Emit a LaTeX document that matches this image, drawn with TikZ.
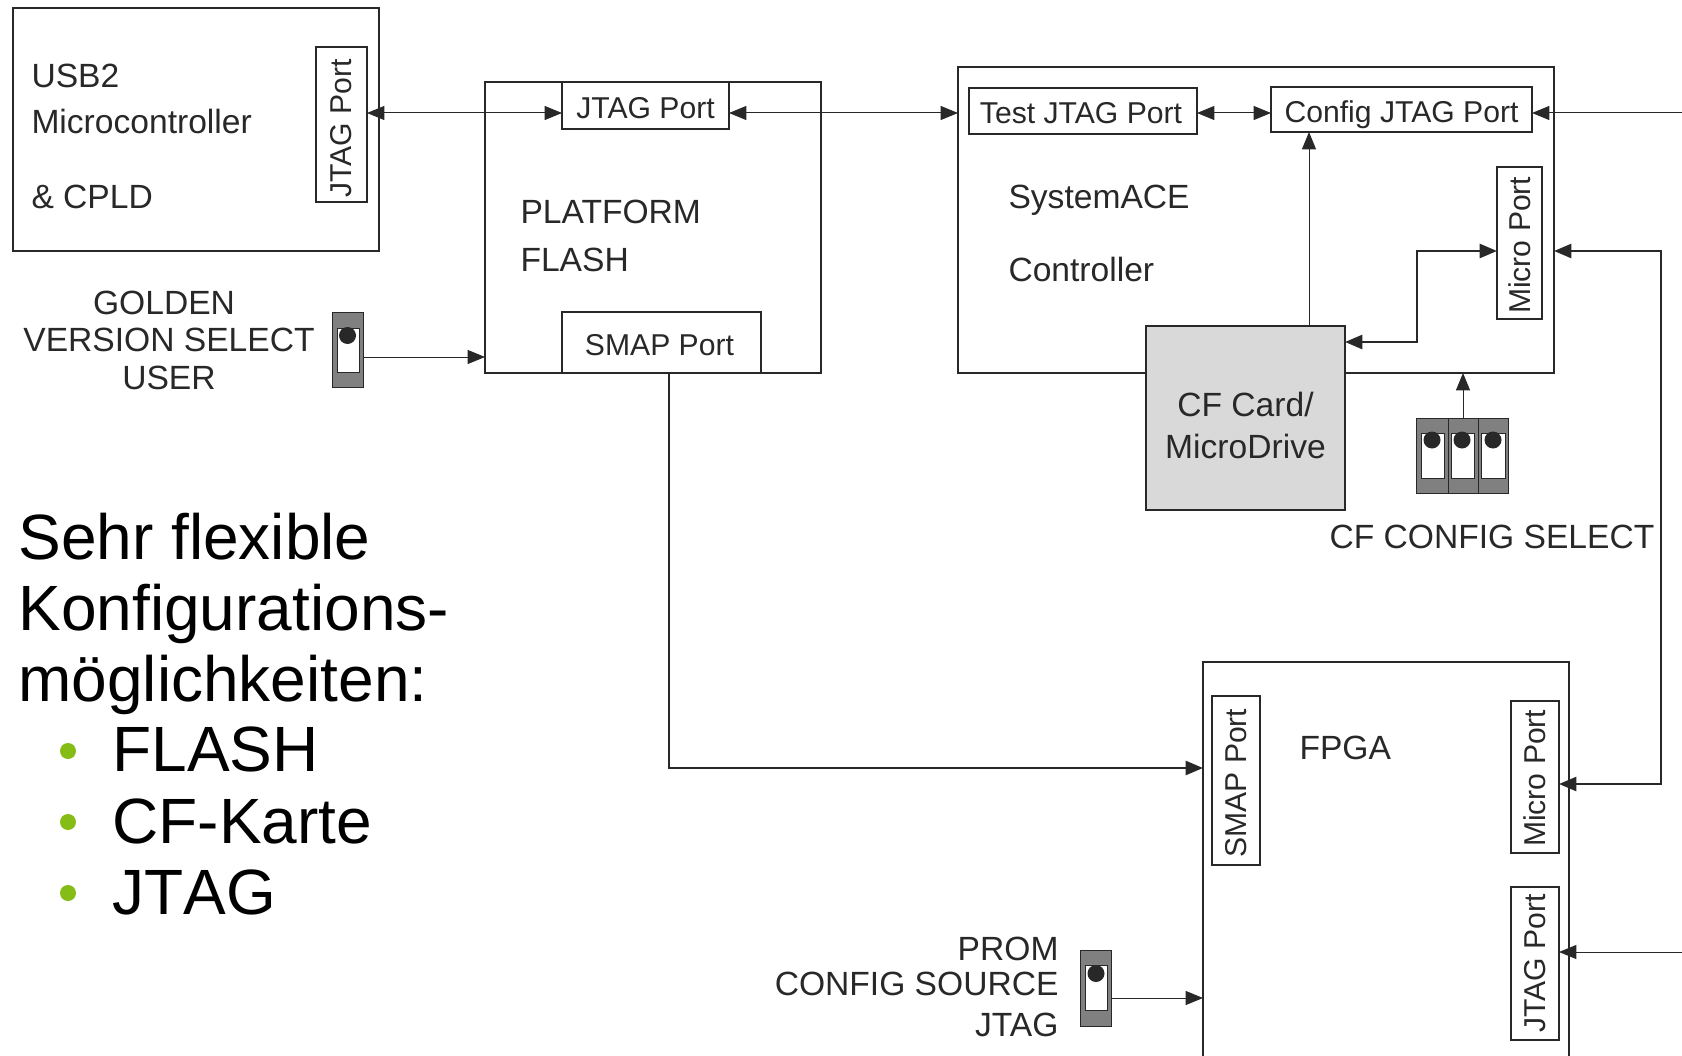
\documentclass[tikz,border=0pt]{standalone}
\usepackage{fontspec}
\setmainfont{Liberation Sans}
\usetikzlibrary{arrows.meta}
\definecolor{inkdark}{RGB}{40,40,40}
\definecolor{cardgrey}{RGB}{217,217,217}
\definecolor{switchgrey}{RGB}{128,128,128}
\definecolor{bulletgreen}{RGB}{133,188,22}
\newcommand{\vport}[2]{\rotatebox{90}{#1\kern#2pt}}
\tikzset{every picture/.style={line width=0.75pt}}
\tikzset{
  sized/.style 2 args={minimum width=#1*0.75pt,minimum height=#2*0.75pt},
  blockbox/.style={draw=inkdark,line width=1.9pt,inner sep=0pt,outer sep=0pt},
  portbox/.style={blockbox,text=inkdark,font=\fontsize{22.6}{26}\selectfont},
  portflat/.style={portbox,text height=23pt,text depth=4.2pt},
  cardbox/.style={blockbox,fill=cardgrey},
  switchbody/.style={draw=inkdark,line width=0.5pt,fill=switchgrey,inner sep=0pt,outer sep=0pt},
  switchslot/.style={draw=inkdark,line width=0.5pt,fill=white},
  switchknob/.style={fill=inkdark},
  boardtext/.style={inner sep=0pt,text=inkdark,font=\fontsize{25.2}{27.75}\selectfont},
  slidetext/.style={inner sep=0pt,anchor=base west,text=black,font=\fontsize{48}{53.5}\selectfont},
  bulletdot/.style={circle,fill=bulletgreen,minimum size=12pt,inner sep=0pt},
  thinlink/.style={draw=inkdark,line width=0.75pt,{Triangle[length=13pt,width=10.5pt]}-{Triangle[length=13pt,width=10.5pt]}},
  thinto/.style={draw=inkdark,line width=0.75pt,-{Triangle[length=13pt,width=10.5pt]}},
  thicklink/.style={draw=inkdark,line width=1.9pt,{Triangle[length=13pt,width=10.5pt]}-{Triangle[length=13pt,width=10.5pt]}},
  thickto/.style={draw=inkdark,line width=1.9pt,-{Triangle[length=13pt,width=10.5pt]}}
}

\begin{document}
\begin{tikzpicture}[x=0.75pt,y=0.75pt,yscale=-1,xscale=1]
\useasboundingbox (0,0) rectangle (1682,1056);

%Shape: USB block
\node [blockbox,sized={366}{243}] (usb) at (196,129.5) {};
\node [portbox,sized={51}{155}] (usbjtag) at (341.5,124.5) {\vport{JTAG Port}{6}};
%Shape: Flash block
\node [blockbox,sized={336}{291}] (flash) at (653,227.5) {};
\node [portflat,sized={167}{47}] (flashjtag) at (645.5,105.5) {JTAG Port};
\node [portflat,sized={199}{61}] (flashsmap) at (661.5,342.5) {SMAP Port\kern3pt};
%Shape: SystemACE block
\node [blockbox,sized={596}{306}] (ace) at (1256,220) {};
\node [portflat,sized={228}{46}] (testjtag) at (1083,111) {Test JTAG Port\kern3pt};
\node [portflat,sized={261}{45}] (cfgjtag) at (1401.5,109.5) {Config JTAG Port};
\node [portbox,sized={45}{152}] (acemicro) at (1519.5,243) {\vport{Micro Port}{3.5}};
%Shape: CF card
\node [cardbox,sized={199}{184}] (cfcard) at (1245.5,418) {};
%Shape: FPGA block
\node [blockbox,sized={366}{418}] (fpga) at (1386,871) {};
\node [portbox,sized={48}{169}] (fpgasmap) at (1236,780.5) {\vport{SMAP Port}{4}};
\node [portbox,sized={48}{152}] (fpgamicro) at (1535,777) {\vport{Micro Port}{2}};
\node [portbox,sized={48}{153}] (fpgajtag) at (1535,963.5) {\vport{JTAG Port}{0}};

%Shape: Switch golden
\node [switchbody,sized={31}{75}] (swgolden) at (347.5,349.5) {};
\draw [switchslot] (337,328) rectangle (359,372);
\fill [switchknob] (347.5,335.5) circle (8.5);
%Shape: Switch prom
\node [switchbody,sized={31}{76}] (swprom) at (1095.5,988.5) {};
\draw [switchslot] (1085,965.5) rectangle (1107,1010.5);
\fill [switchknob] (1096,973.5) circle (8.5);
%Shape: Switch cf config
\node [switchbody,sized={32}{75}] (swcfa) at (1432,455.5) {};
\node [switchbody,sized={30}{75}] (swcfb) at (1463,455.5) {};
\node [switchbody,sized={30.5}{75}] (swcfc) at (1493.25,455.5) {};
\draw [switchslot] (1421,433) rectangle (1444,478);
\draw [switchslot] (1451,433) rectangle (1474,478);
\draw [switchslot] (1481,433) rectangle (1505,478);
\fill [switchknob] (1432,440) circle (8.5);
\fill [switchknob] (1462,440) circle (8.5);
\fill [switchknob] (1493,440) circle (8.5);

%Coordinates of the links
\coordinate (jtagbus) at (0,113);
\coordinate (goldenbus) at (0,357);
\coordinate (smapbus) at (669,768);
\coordinate (cfup) at (1309,0);
\coordinate (cfbend) at (1417,342);
\coordinate (microbend) at (1417,251);
\coordinate (trunktop) at (1661,251);
\coordinate (trunkend) at (1661,784);
\coordinate (edgecfg) at (1682,113);
\coordinate (edgefpga) at (1682,952);
\coordinate (prombus) at (0,998);

%Straight Lines
\draw [thinlink] (usbjtag.east |- jtagbus) -- (flashjtag.west |- jtagbus);
\draw [thinlink] (flashjtag.east |- jtagbus) -- (ace.west |- jtagbus);
\draw [thinlink] (testjtag.east |- jtagbus) -- (cfgjtag.west |- jtagbus);
\draw [thinto] (edgecfg) -- (cfgjtag.east |- edgecfg);
\draw [thinto] (swgolden.east |- goldenbus) -- (flash.west |- goldenbus);
\draw [thinto] (swprom.east |- prombus) -- (fpga.west |- prombus);
\draw [thinto] (cfup |- cfcard.north) -- (cfup |- cfgjtag.south);
\draw [thinto] (swcfb.north) -- (swcfb.north |- ace.south);
\draw [thinto] (edgefpga) -- (fpgajtag.east |- edgefpga);
\draw [thickto] (smapbus |- flashsmap.south) -- (smapbus) -- (smapbus -| fpga.west);
\draw [thicklink] (cfbend -| cfcard.east) -- (cfbend) -- (microbend) -- (microbend -| acemicro.west);
\draw [thicklink] (trunktop -| ace.east) -- (trunktop) -- (trunkend) -- (trunkend -| fpgamicro.east);

% Text Node
\node [boardtext,anchor=base west] (usbname) at (31,88) {USB2};
\node [boardtext,anchor=base west] (usbmicro) at (31,133) {Microcontroller};
\node [boardtext,anchor=base west] (usbcpld) at (31,208) {\& CPLD};
% Text Node
\node [boardtext,anchor=base west] (flashname) at (520,223) {PLATFORM};
\node [boardtext,anchor=base west] (flashword) at (520,271) {FLASH};
% Text Node
\node [boardtext,anchor=base west] (acename) at (1008,208) {SystemACE};
\node [boardtext,anchor=base west] (aceword) at (1008,281) {Controller};
% Text Node
\node [boardtext,anchor=base] (cfname) at (1245.5,416) {CF Card/};
\node [boardtext,anchor=base] (cfword) at (1245.5,458) {MicroDrive};
% Text Node
\node [boardtext,anchor=base west] (fpganame) at (1299,759) {FPGA};
% Text Node
\node [boardtext,anchor=base west] (cfselect) at (1329,548) {CF CONFIG SELECT};
% Text Node
\node [boardtext,anchor=base] (goldena) at (164,314) {GOLDEN};
\node [boardtext,anchor=base] (goldenb) at (169,351) {VERSION SELECT};
\node [boardtext,anchor=base] (goldenc) at (169,389) {USER};
% Text Node
\node [boardtext,anchor=base east] (proma) at (1059,960) {PROM};
\node [boardtext,anchor=base east] (promb) at (1059,995.5) {CONFIG SOURCE};
\node [boardtext,anchor=base east] (promc) at (1059,1036) {JTAG};

% Text Node
\node [slidetext] (slidea) at (18,559) {Sehr flexible};
\node [slidetext] (slideb) at (18,630) {Konfigurations-};
\node [slidetext] (slidec) at (18,701) {möglichkeiten:};
\node [bulletdot] (bulleta) at (68,751) {};
\node [bulletdot] (bulletb) at (68,822) {};
\node [bulletdot] (bulletc) at (68,893) {};
\node [slidetext] (itema) at (112,771) {FLASH};
\node [slidetext] (itemb) at (112,843) {CF-Karte};
\node [slidetext] (itemc) at (112,914) {\addfontfeature{Kerning=Off}JTAG};

\end{tikzpicture}
\end{document}
